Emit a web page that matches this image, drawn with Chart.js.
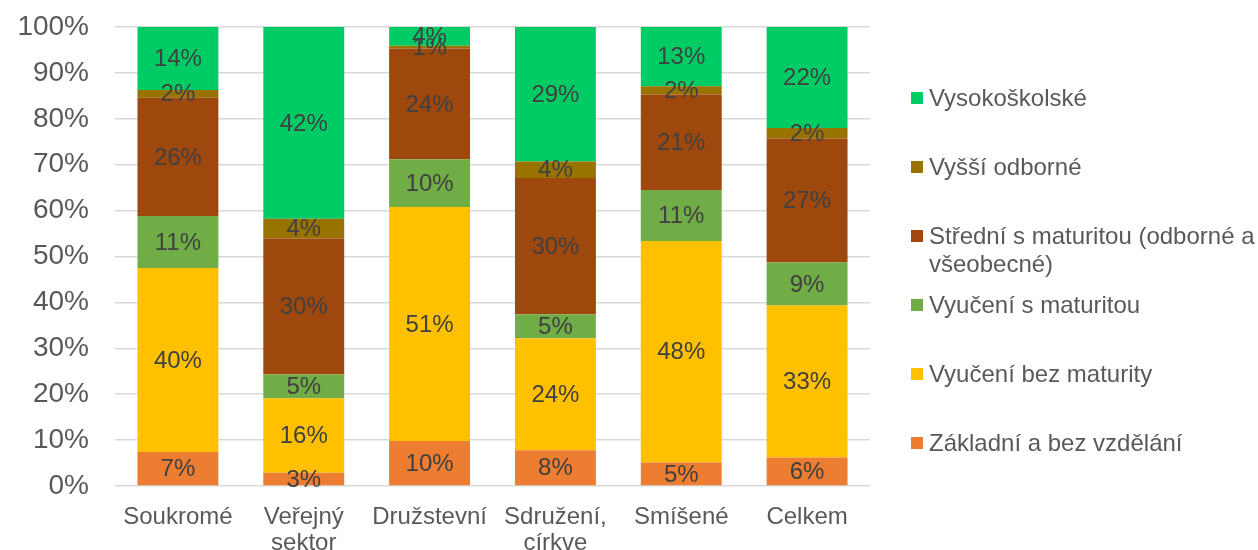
<!DOCTYPE html>
<html lang="cs">
<head>
<meta charset="utf-8">
<title>Vzdělání podle typu vlastnictví</title>
<script src="https://cdn.jsdelivr.net/npm/chart.js@4/dist/chart.umd.min.js"></script>
<style>
    html, body {
        margin: 0;
        padding: 0;
        background: #fff;
    }
    .wrap {
        position: relative;
        width: 1258px;
        height: 550px;
    }
    #graf {
        position: absolute;
        left: 0;
        top: 0;
    }
    .legenda-polozka {
        position: absolute;
        left: 911px;
        display: flex;
        align-items: flex-start;
        font-family: "Liberation Sans", Arial, sans-serif;
        font-size: 24px;
        line-height: 28px;
        color: #595959;
    }
    .legenda-polozka span.znacka {
        width: 12px;
        height: 12px;
        margin-top: 8px;
        margin-right: 6px;
        flex: none;
    }
    .legenda-polozka span.text {
        width: 329px;
    }
</style>
</head>
<body>
<div class="wrap">
    <canvas id="graf" width="1258" height="550"></canvas>
    <div id="legenda"></div>
</div>
<script>
const kategorie = ["Soukromé", ["Veřejný", "sektor"], "Družstevní", ["Sdružení,", "církve"], "Smíšené", "Celkem"]

// podíly v % pro každou kategorii (součet 100)
const zakladni = [7.4, 2.9, 9.8, 7.8, 5.1, 6.2]
const vyuceniBez = [40.1, 16.2, 51.0, 24.4, 48.3, 33.1]
const vyuceniS = [11.3, 5.2, 10.4, 5.2, 11.1, 9.4]
const stredni = [25.8, 29.6, 24.1, 29.7, 20.8, 27.0]
const vyssi = [1.7, 4.3, 0.6, 3.6, 1.8, 2.3]
const vysokoskolske = [13.7, 41.8, 4.1, 29.3, 12.9, 22.0]

const nazvy = [
    "Základní a bez vzdělání",
    "Vyučení bez maturity",
    "Vyučení s maturitou",
    "Střední s maturitou (odborné a všeobecné)",
    "Vyšší odborné",
    "Vysokoškolské"
]
const barvy = ["#ED7D31", "#FFC000", "#70AD47", "#9E480E", "#997300", "#00CC66"]
const hodnoty = [zakladni, vyuceniBez, vyuceniS, stredni, vyssi, vysokoskolske]

const pismo = "'Liberation Sans', Arial, sans-serif"

// popisky hodnot uprostřed každého segmentu
const popiskyHodnot = {
    id: "popiskyHodnot",
    afterDatasetsDraw(chart) {
        const ctx = chart.ctx
        ctx.save()
        ctx.font = "24px " + pismo
        ctx.fillStyle = "#404040"
        ctx.textAlign = "center"
        ctx.textBaseline = "middle"
        chart.data.datasets.forEach((ds, i) => {
            const meta = chart.getDatasetMeta(i)
            meta.data.forEach((bar, j) => {
                const y = (bar.y + bar.base) / 2
                ctx.fillText(Math.round(ds.data[j]) + "%", bar.x, y + 1)
            })
        })
        ctx.restore()
    }
}

const datasets = hodnoty.map((data, i) => ({
    label: nazvy[i],
    data: data,
    backgroundColor: barvy[i],
    borderWidth: 0,
    barPercentage: 1,
    categoryPercentage: 0.643
}))

const graf = new Chart(document.querySelector("#graf"), {
    type: "bar",
    data: {
        labels: kategorie,
        datasets: datasets
    },
    options: {
        responsive: false,
        animation: false,
        layout: {
            padding: { top: 27, right: 388, bottom: 0, left: 0 }
        },
        plugins: {
            legend: { display: false },
            tooltip: { enabled: false }
        },
        scales: {
            x: {
                stacked: true,
                grid: { display: false },
                border: { display: false },
                ticks: {
                    color: "#595959",
                    font: { family: pismo, size: 24, lineHeight: 1.1 },
                    padding: 10,
                    maxRotation: 0
                },
                afterFit(scale) {
                    scale.height = 64
                    scale.paddingLeft = 0
                    scale.paddingRight = 0
                }
            },
            y: {
                stacked: true,
                min: 0,
                max: 100,
                grid: {
                    color: "#D9D9D9",
                    lineWidth: 1.5,
                    drawTicks: false
                },
                border: { display: false },
                ticks: {
                    stepSize: 10,
                    color: "#595959",
                    font: { family: pismo, size: 28 },
                    padding: 26,
                    callback: v => v + "%"
                },
                afterFit(scale) {
                    scale.width = 115
                    scale.paddingTop = 0
                    scale.paddingBottom = 0
                }
            }
        }
    },
    plugins: [popiskyHodnot]
})

// legenda vpravo, v obráceném pořadí jako ve sloupcích
const legenda = document.querySelector("#legenda")
for (let i = datasets.length - 1; i >= 0; i--) {
    const poradi = datasets.length - 1 - i
    const polozka = document.createElement("div")
    polozka.classList.add("legenda-polozka")
    polozka.style.top = (84 + poradi * 69) + "px"

    const znacka = document.createElement("span")
    znacka.classList.add("znacka")
    znacka.style.background = datasets[i].backgroundColor

    const text = document.createElement("span")
    text.classList.add("text")
    text.textContent = datasets[i].label

    polozka.appendChild(znacka)
    polozka.appendChild(text)
    legenda.appendChild(polozka)
}
</script>
</body>
</html>
